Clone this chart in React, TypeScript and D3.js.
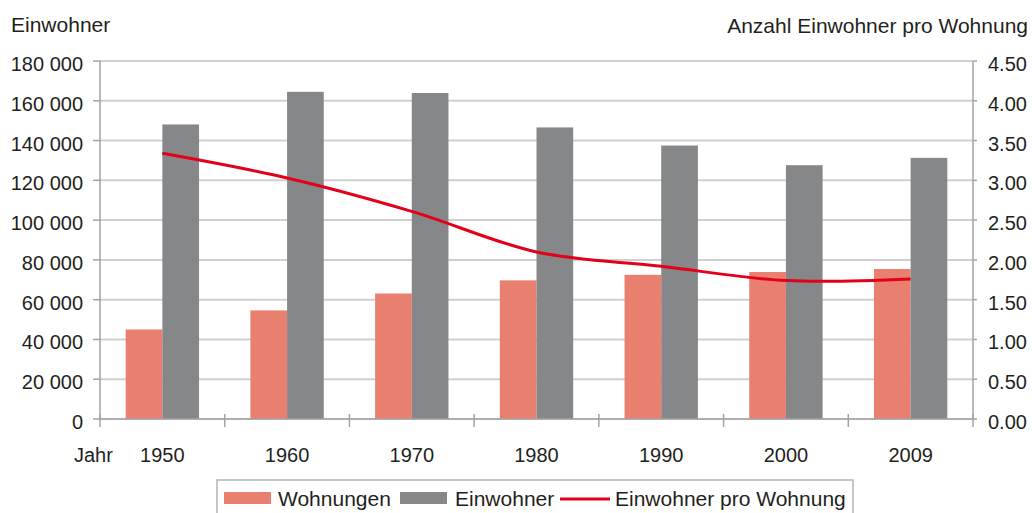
import React from 'react';
import * as d3 from 'd3';

const years = ['1950', '1960', '1970', '1980', '1990', '2000', '2009'];
const wohnungen = [45000, 54600, 63100, 69700, 72500, 73900, 75400];
const einwohner = [148100, 164500, 163900, 146600, 137500, 127600, 131300];
const proWohnung = [3.34, 3.03, 2.61, 2.1, 1.92, 1.74, 1.76];
const leftTicks = [0, 20000, 40000, 60000, 80000, 100000, 120000, 140000, 160000, 180000];
const rightTicks = [0, 0.5, 1, 1.5, 2, 2.5, 3, 3.5, 4, 4.5];

const W = 1032;
const H = 513;
const margin = { top: 61, right: 59, bottom: 94, left: 100 };
const FONT = '"Liberation Sans", Arial, sans-serif';
const TEXT = '#231f20';

const colors = {
  wohnungen: '#e97f6e',
  einwohner: '#858789',
  line: '#e2001a',
  grid: '#d0d0d0',
  axis: '#a3a3a3',
};

const locale = d3.formatLocale({ decimal: '.', thousands: ' ', grouping: [3], currency: ['', ''] });
const fmtLeft = locale.format(',');
const fmtRight = d3.format('.2f');

const App = () => {
  const x0 = margin.left;
  const x1 = W - margin.right;
  const yBottom = H - margin.bottom;

  const x = d3.scaleBand().domain(years).range([x0, x1]).paddingInner(0).paddingOuter(0);
  const sub = d3.scaleBand().domain(['w', 'e']).range([0, x.bandwidth()]).paddingInner(0).paddingOuter(0.7);
  const y = d3.scaleLinear().domain([0, 180000]).range([yBottom, margin.top]);
  const y2 = d3.scaleLinear().domain([0, 4.5]).range([yBottom, margin.top]);

  const line = d3
    .line<number>()
    .x((_, i) => (x(years[i]) as number) + x.bandwidth() / 2)
    .y((d) => y2(d))
    .curve(d3.curveCatmullRom.alpha(0.5));

  return (
    <svg
      width={W}
      height={H}
      style={{ position: 'absolute', left: 0, top: 0, background: '#fff', fontFamily: FONT }}
    >
      {/* gridlines */}
      {leftTicks.map((t) => (
        <line key={'g' + t} x1={x0} x2={x1} y1={y(t)} y2={y(t)} stroke={colors.grid} strokeWidth={2} />
      ))}

      {/* bars */}
      {years.map((yr, i) => (
        <g key={yr} transform={`translate(${x(yr)},0)`}>
          <rect
            x={sub('w')}
            y={y(wohnungen[i])}
            width={sub.bandwidth()}
            height={yBottom - y(wohnungen[i])}
            fill={colors.wohnungen}
          />
          <rect
            x={sub('e')}
            y={y(einwohner[i])}
            width={sub.bandwidth()}
            height={yBottom - y(einwohner[i])}
            fill={colors.einwohner}
          />
        </g>
      ))}

      {/* axes */}
      <line x1={x0} x2={x0} y1={margin.top} y2={yBottom} stroke={colors.axis} strokeWidth={1.5} />
      <line x1={x1} x2={x1} y1={margin.top} y2={yBottom} stroke={colors.axis} strokeWidth={1.5} />
      <line x1={x0} x2={x1} y1={yBottom} y2={yBottom} stroke={colors.axis} strokeWidth={1.5} />
      {leftTicks.map((t) => (
        <line key={'lt' + t} x1={x0 - 7} x2={x0} y1={y(t)} y2={y(t)} stroke={colors.axis} strokeWidth={1.5} />
      ))}
      {rightTicks.map((t) => (
        <line key={'rt' + t} x1={x1} x2={x1 + 4} y1={y2(t)} y2={y2(t)} stroke={colors.axis} strokeWidth={1.5} />
      ))}
      {years.concat(['end']).map((yr, i) => {
        const xp = x0 + i * x.step();
        return <line key={'xt' + yr} x1={xp} x2={xp} y1={yBottom - 5} y2={yBottom + 8} stroke={colors.axis} strokeWidth={1.5} />;
      })}

      {/* line */}
      <path d={line(proWohnung) || ''} fill="none" stroke={colors.line} strokeWidth={3} />

      {/* left tick labels */}
      {leftTicks.map((t) => (
        <text key={'ll' + t} x={83} y={y(t) + 3} dy="0.35em" textAnchor="end" fontSize={20} fill={TEXT}>
          {fmtLeft(t)}
        </text>
      ))}
      {/* right tick labels */}
      {rightTicks.map((t) => (
        <text key={'rl' + t} x={988} y={y2(t) + 3} dy="0.35em" textAnchor="start" fontSize={20} fill={TEXT}>
          {fmtRight(t)}
        </text>
      ))}
      {/* x labels */}
      {years.map((yr) => (
        <text
          key={'xl' + yr}
          x={(x(yr) as number) + x.bandwidth() / 2}
          y={462}
          textAnchor="middle"
          fontSize={20}
          fill={TEXT}
        >
          {yr}
        </text>
      ))}
      <text x={74} y={462} fontSize={20} fill={TEXT}>
        Jahr
      </text>

      {/* axis titles */}
      <text x={11} y={32} fontSize={21} fill={TEXT}>
        Einwohner
      </text>
      <text x={1028} y={33} textAnchor="end" fontSize={21} fill={TEXT}>
        Anzahl Einwohner pro Wohnung
      </text>

      {/* legend */}
      <g>
        <rect x={217} y={480} width={636} height={40} fill="#fff" stroke="#b5b5b5" strokeWidth={1.5} />
        <rect x={224} y={492} width={47} height={12} fill={colors.wohnungen} />
        <text x={278} y={506} fontSize={21} fill={TEXT}>
          Wohnungen
        </text>
        <rect x={400} y={492} width={47} height={12} fill={colors.einwohner} />
        <text x={455} y={506} fontSize={21} fill={TEXT}>
          Einwohner
        </text>
        <line x1={560} x2={610} y1={499} y2={499} stroke={colors.line} strokeWidth={3} />
        <text x={615} y={506} fontSize={21} fill={TEXT}>
          Einwohner pro Wohnung
        </text>
      </g>
    </svg>
  );
};

export default App;
